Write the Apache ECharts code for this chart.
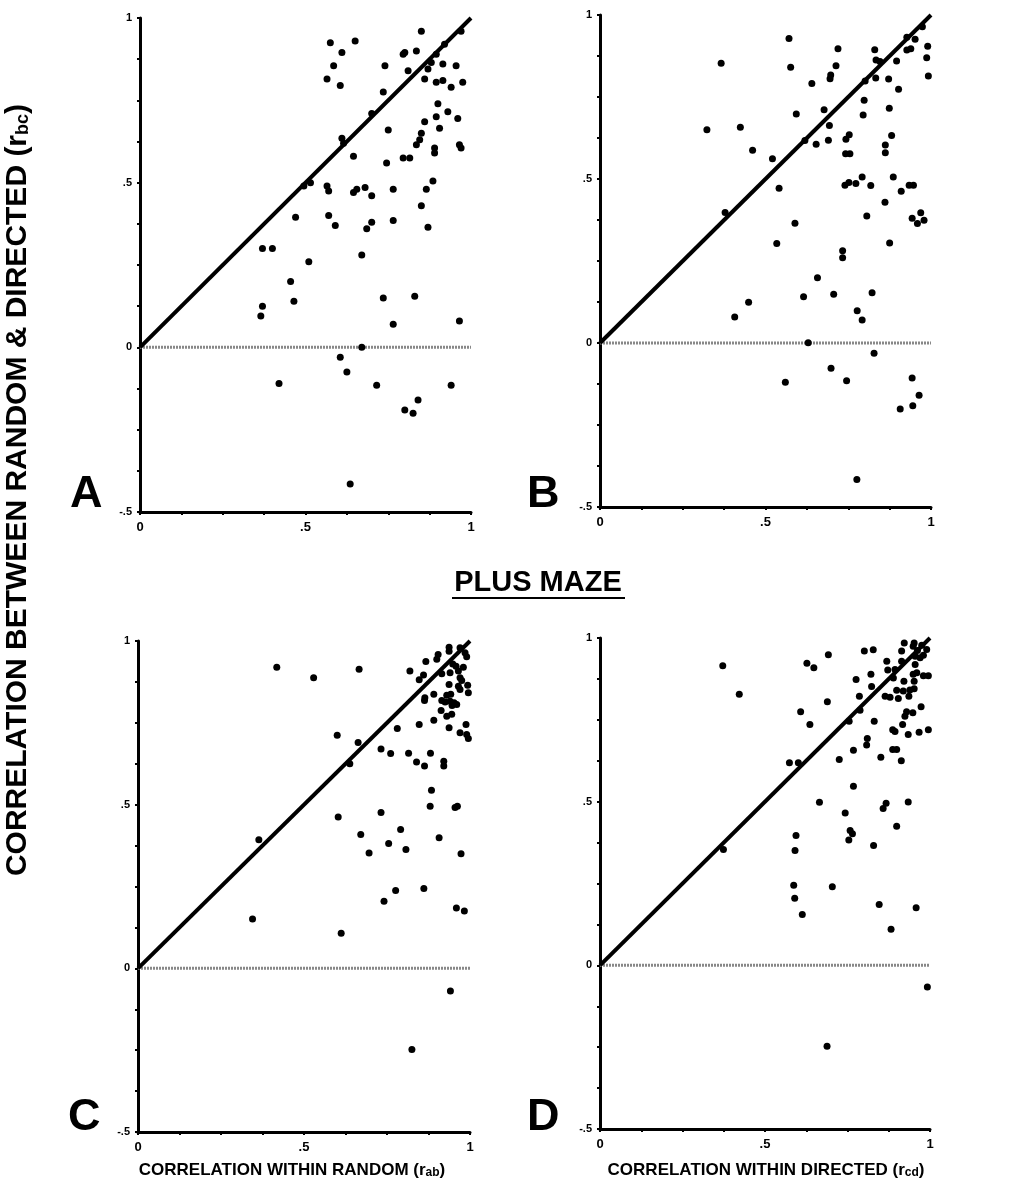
<!DOCTYPE html>
<html>
<head>
<meta charset="utf-8">
<script src="https://cdn.jsdelivr.net/npm/echarts@6/dist/echarts.min.js"></script>
<style>
html,body{margin:0;padding:0;background:#fff;}
#chart{width:1010px;height:1190px;}
</style>
</head>
<body>
<div id="chart"></div>
<script>
// panel A : r(ab) vs r(bc), random maze
var pointsA = [[0.85,0.96],[0.97,0.96],[0.575,0.925],[0.65,0.93],[0.92,0.92],[0.61,0.895],[0.795,0.89],[0.80,0.895],[0.835,0.90],[0.895,0.89],
	[0.585,0.855],[0.74,0.855],[0.88,0.865],[0.915,0.86],[0.955,0.855],[0.81,0.84],[0.87,0.845],[0.565,0.815],[0.605,0.795],[0.86,0.815],
	[0.895,0.805],[0.915,0.81],[0.94,0.79],[0.975,0.805],[0.735,0.775],[0.90,0.74],[0.93,0.715],[0.895,0.70],[0.96,0.695],[0.86,0.685],
	[0.70,0.71],[0.75,0.66],[0.85,0.65],[0.905,0.665],[0.61,0.635],[0.615,0.62],[0.845,0.63],[0.835,0.615],[0.89,0.605],[0.89,0.59],
	[0.965,0.615],[0.97,0.605],[0.645,0.58],[0.745,0.56],[0.795,0.575],[0.815,0.575],[0.885,0.505],[0.865,0.48],[0.495,0.49],[0.515,0.50],
	[0.565,0.49],[0.57,0.475],[0.645,0.47],[0.655,0.48],[0.68,0.485],[0.70,0.46],[0.765,0.48],[0.85,0.43],[0.47,0.395],[0.57,0.40],
	[0.59,0.37],[0.70,0.38],[0.685,0.36],[0.765,0.385],[0.87,0.365],[0.37,0.30],[0.40,0.30],[0.67,0.28],[0.51,0.26],[0.455,0.20],
	[0.465,0.14],[0.37,0.125],[0.365,0.095],[0.735,0.15],[0.83,0.155],[0.765,0.07],[0.965,0.08],[0.67,0.0],[0.605,-0.03],[0.625,-0.075],
	[0.42,-0.11],[0.715,-0.115],[0.94,-0.115],[0.84,-0.16],[0.80,-0.19],[0.825,-0.20],[0.635,-0.415]];
// panel B : r(cd) vs r(bc)
var pointsB = [[0.974,0.964],[0.571,0.928],[0.927,0.932],[0.952,0.926],[0.99,0.905],[0.719,0.897],[0.83,0.894],[0.927,0.893],[0.939,0.897],[0.366,0.853],
	[0.576,0.841],[0.713,0.845],[0.834,0.863],[0.846,0.858],[0.896,0.86],[0.987,0.87],[0.697,0.817],[0.695,0.806],[0.992,0.814],[0.64,0.791],
	[0.801,0.799],[0.833,0.808],[0.872,0.805],[0.902,0.774],[0.798,0.74],[0.795,0.695],[0.874,0.716],[0.677,0.711],[0.593,0.698],[0.323,0.65],
	[0.424,0.658],[0.693,0.663],[0.753,0.635],[0.743,0.621],[0.881,0.633],[0.619,0.617],[0.653,0.606],[0.69,0.618],[0.862,0.604],[0.862,0.58],
	[0.461,0.588],[0.521,0.562],[0.742,0.577],[0.755,0.577],[0.792,0.506],[0.886,0.506],[0.74,0.481],[0.752,0.489],[0.773,0.486],[0.818,0.48],
	[0.91,0.463],[0.934,0.481],[0.947,0.481],[0.541,0.472],[0.861,0.429],[0.378,0.398],[0.806,0.387],[0.943,0.38],[0.959,0.364],[0.969,0.397],
	[0.979,0.374],[0.589,0.365],[0.534,0.303],[0.875,0.305],[0.733,0.281],[0.733,0.26],[0.657,0.199],[0.615,0.141],[0.706,0.149],[0.822,0.153],
	[0.449,0.124],[0.407,0.079],[0.777,0.098],[0.792,0.07],[0.629,0.001],[0.828,-0.031],[0.698,-0.077],[0.56,-0.12],[0.745,-0.115],[0.943,-0.107],
	[0.964,-0.159],[0.907,-0.201],[0.945,-0.191],[0.776,-0.416]];
// panel C : plus maze, r(ab) vs r(bc)
var pointsC = [[0.937,0.981],[0.937,0.969],[0.97,0.979],[0.985,0.964],[0.99,0.952],[0.904,0.959],[0.90,0.944],[0.867,0.937],[0.418,0.92],[0.666,0.914],
	[0.819,0.908],[0.948,0.93],[0.958,0.923],[0.98,0.92],[0.529,0.888],[0.86,0.896],[0.847,0.882],[0.915,0.90],[0.94,0.903],[0.965,0.908],
	[0.97,0.888],[0.975,0.879],[0.937,0.867],[0.965,0.862],[0.97,0.852],[0.993,0.865],[0.995,0.842],[0.891,0.837],[0.864,0.827],[0.863,0.818],
	[0.93,0.834],[0.942,0.837],[0.915,0.818],[0.925,0.814],[0.94,0.816],[0.952,0.811],[0.96,0.806],[0.946,0.803],[0.913,0.788],[0.93,0.77],
	[0.945,0.776],[0.891,0.758],[0.847,0.745],[0.988,0.745],[0.937,0.735],[0.781,0.733],[0.97,0.72],[0.99,0.714],[0.995,0.702],[0.60,0.712],
	[0.663,0.69],[0.732,0.67],[0.761,0.656],[0.815,0.657],[0.881,0.657],[0.839,0.63],[0.863,0.618],[0.921,0.633],[0.921,0.618],[0.638,0.625],
	[0.884,0.544],[0.88,0.495],[0.955,0.491],[0.962,0.495],[0.603,0.462],[0.732,0.476],[0.671,0.409],[0.791,0.424],[0.907,0.399],[0.364,0.393],
	[0.755,0.381],[0.696,0.352],[0.807,0.363],[0.973,0.35],[0.776,0.238],[0.861,0.244],[0.741,0.205],[0.959,0.184],[0.983,0.175],[0.345,0.151],
	[0.612,0.107],[0.941,-0.069],[0.825,-0.248]];
// panel D : plus maze, r(cd) vs r(bc)
var pointsD = [[0.922,0.985],[0.952,0.985],[0.949,0.975],[0.975,0.978],[0.962,0.962],[0.98,0.947],[0.955,0.944],[0.97,0.94],[0.801,0.96],[0.828,0.964],
	[0.692,0.949],[0.914,0.96],[0.99,0.965],[0.372,0.915],[0.627,0.923],[0.648,0.909],[0.869,0.929],[0.872,0.902],[0.914,0.929],[0.894,0.904],
	[0.955,0.919],[0.96,0.894],[0.949,0.889],[0.821,0.889],[0.776,0.873],[0.889,0.878],[0.921,0.868],[0.952,0.868],[0.98,0.885],[0.995,0.885],
	[0.823,0.852],[0.422,0.828],[0.786,0.822],[0.864,0.822],[0.879,0.819],[0.904,0.815],[0.899,0.84],[0.919,0.838],[0.939,0.841],[0.952,0.845],
	[0.936,0.822],[0.689,0.805],[0.973,0.79],[0.608,0.775],[0.788,0.779],[0.929,0.775],[0.948,0.772],[0.924,0.761],[0.636,0.736],[0.755,0.746],
	[0.831,0.746],[0.917,0.736],[0.887,0.72],[0.894,0.714],[0.934,0.705],[0.967,0.712],[0.995,0.72],[0.81,0.693],[0.808,0.673],[0.768,0.657],
	[0.887,0.659],[0.899,0.659],[0.574,0.619],[0.601,0.619],[0.725,0.629],[0.851,0.636],[0.913,0.625],[0.768,0.547],[0.665,0.498],[0.867,0.495],
	[0.934,0.499],[0.858,0.479],[0.743,0.465],[0.899,0.425],[0.594,0.397],[0.758,0.412],[0.765,0.402],[0.754,0.383],[0.829,0.366],[0.374,0.354],
	[0.591,0.351],[0.587,0.245],[0.704,0.24],[0.59,0.205],[0.846,0.186],[0.958,0.176],[0.613,0.155],[0.882,0.11],[0.992,-0.066],[0.688,-0.247]];

var identityLine = [[0,0],[1,1]];
var zeroLine = [[0,0],[1,0]];
var xTickValues = [0, 0.5, 1];
var xTickText = ['0', '.5', '1'];
var yTickValues = [-0.5, 0, 0.5, 1];
var yTickText = ['-.5', '0', '.5', '1'];
var panelLetters = ['A', 'B', 'C', 'D'];
var yTitle = 'CORRELATION BETWEEN RANDOM & DIRECTED ';
var xTitleC = 'CORRELATION WITHIN RANDOM ';
var xTitleD = 'CORRELATION WITHIN DIRECTED ';
var midTitle = 'PLUS MAZE';

var FONT = '"Liberation Sans", Arial, Helvetica, sans-serif';

function tickText(values, texts, v){
	for (var i = 0; i < values.length; i++) {
		if (Math.abs(values[i]-v) < 1e-6) return texts[i];
	}
	return '';
}

var grids = [
	{left: 140, top: 18, width: 331, height: 494},
	{left: 600, top: 15, width: 331, height: 492},
	{left: 138, top: 641, width: 332, height: 491},
	{left: 600, top: 638, width: 330, height: 491}
];

var xAxes = [], yAxes = [], series = [];
var panels = [pointsA, pointsB, pointsC, pointsD];
for (var i = 0; i < 4; i++) {
	xAxes.push({
		type: 'value', gridIndex: i, min: 0, max: 1, interval: 0.125,
		axisLine: {onZero: false, lineStyle: {color: '#000', width: 3}},
		axisTick: {length: 3, lineStyle: {color: '#000', width: 2}},
		splitLine: {show: false},
		axisLabel: {
			color: '#000', fontWeight: 'bold', fontSize: 13, fontFamily: FONT, margin: 9,
			formatter: function(v){ return tickText(xTickValues, xTickText, v); }
		}
	});
	yAxes.push({
		type: 'value', gridIndex: i, min: -0.5, max: 1, interval: 0.125,
		axisLine: {onZero: false, lineStyle: {color: '#000', width: 3}},
		axisTick: {length: 3, lineStyle: {color: '#000', width: 2}},
		splitLine: {show: false},
		axisLabel: {
			color: '#000', fontWeight: 'bold', fontSize: 11, fontFamily: FONT, margin: 8,
			formatter: function(v){ return tickText(yTickValues, yTickText, v); }
		}
	});
	series.push({
		type: 'line', xAxisIndex: i, yAxisIndex: i, data: zeroLine, symbol: 'none',
		lineStyle: {color: '#888', width: 3, type: [2, 1]}, silent: true, z: 1
	});
	series.push({
		type: 'line', xAxisIndex: i, yAxisIndex: i, data: identityLine, symbol: 'none',
		lineStyle: {color: '#000', width: 4}, silent: true, z: 2
	});
	series.push({
		type: 'scatter', xAxisIndex: i, yAxisIndex: i, data: panels[i],
		symbolSize: 7, itemStyle: {color: '#000', opacity: 1}, z: 3
	});
}

var subRich = {
	s: {fontSize: 18, fontWeight: 'bold', fontFamily: FONT, fill: '#000', padding: [10, 0, 0, 0]}
};

var letterPos = [[70, 494], [527, 494], [68, 1117], [527, 1117]];
var graphics = [];
for (var k = 0; k < 4; k++) {
	graphics.push({
		type: 'text', left: letterPos[k][0], top: letterPos[k][1] - 22,
		style: {text: panelLetters[k], font: 'bold 45px ' + FONT, fill: '#000'}
	});
}
graphics.push({
	type: 'text', x: 18, y: 490, rotation: Math.PI / 2,
	style: {
		text: yTitle + '(r{s|bc})', font: 'bold 30px ' + FONT, fill: '#000',
		align: 'center', verticalAlign: 'middle', rich: subRich
	}
});
graphics.push({
	type: 'text', x: 538, y: 583,
	style: {text: midTitle, font: 'bold 29px ' + FONT, fill: '#000', align: 'center', verticalAlign: 'middle'}
});
graphics.push({
	type: 'line', shape: {x1: 452, y1: 598, x2: 625, y2: 598},
	style: {stroke: '#000', lineWidth: 2}
});
graphics.push({
	type: 'text', x: 292, y: 1170,
	style: {text: xTitleC + '(r{s|ab})', font: 'bold 17px ' + FONT, fill: '#000', align: 'center', verticalAlign: 'middle',
		rich: {s: {fontSize: 12, fontWeight: 'bold', fontFamily: FONT, fill: '#000', padding: [5, 0, 0, 0]}}}
});
graphics.push({
	type: 'text', x: 766, y: 1170,
	style: {text: xTitleD + '(r{s|cd})', font: 'bold 17px ' + FONT, fill: '#000', align: 'center', verticalAlign: 'middle',
		rich: {s: {fontSize: 12, fontWeight: 'bold', fontFamily: FONT, fill: '#000', padding: [5, 0, 0, 0]}}}
});

var myChart = echarts.init(document.getElementById('chart'), null, {renderer: 'canvas'});
var option = {
	backgroundColor: '#fff',
	animation: false,
	grid: grids,
	xAxis: xAxes,
	yAxis: yAxes,
	series: series,
	graphic: graphics
};
myChart.setOption(option, true);
</script>
</body>
</html>
